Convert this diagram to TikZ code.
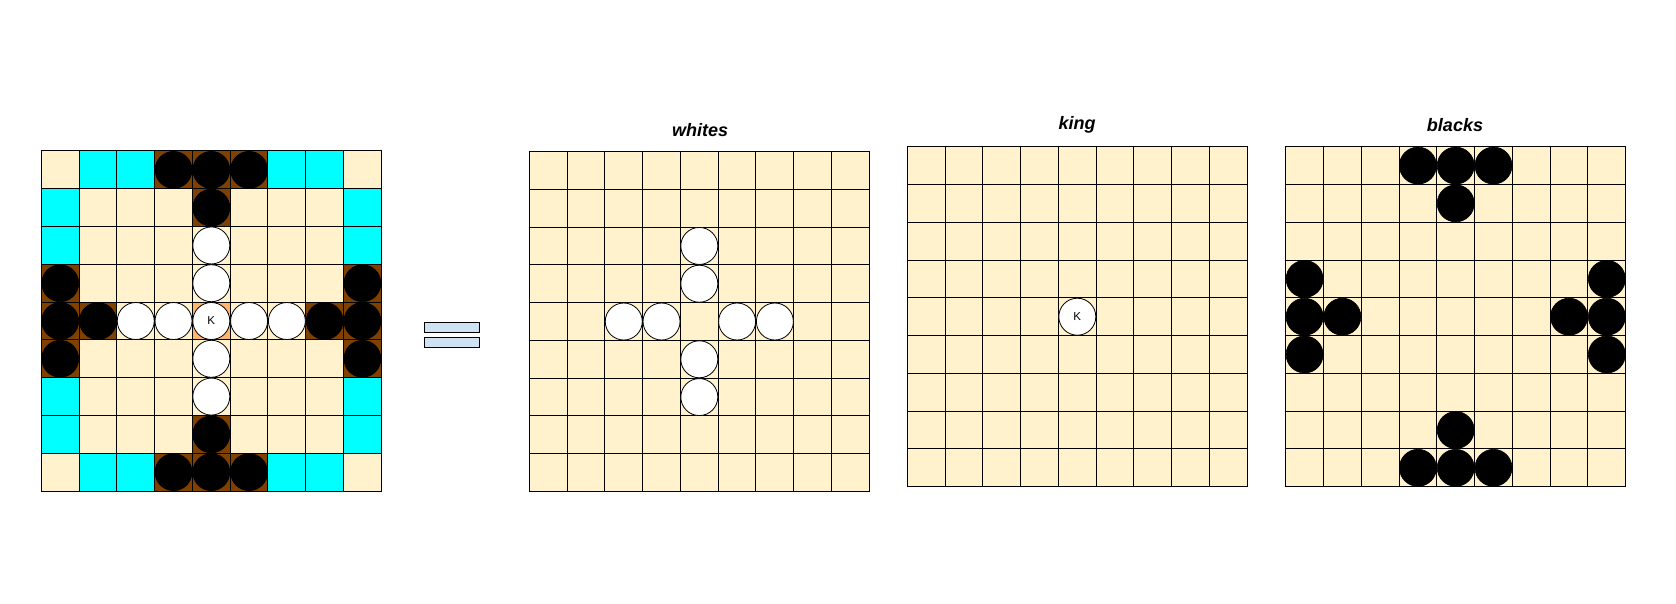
\documentclass[tikz,border=0pt]{standalone}
\usepackage{fontspec}
\newfontfamily\arial{Liberation Sans}
\definecolor{cream}{HTML}{FFF2CC}
\definecolor{aqua}{HTML}{00FFFF}
\definecolor{wood}{HTML}{7F4000}
\definecolor{throne}{HTML}{FFB570}
\definecolor{eqblue}{HTML}{CFE2F3}
\tikzset{
  cellbox/.style={draw=black, line width=1pt, minimum size=37.78pt, inner sep=0pt, outer sep=0pt, fill=cream},
  blackpiece/.style={circle, draw=black, fill=black, line width=0.6pt, minimum size=37pt, inner sep=0pt},
  whitepiece/.style={circle, draw=black, fill=white, line width=0.8pt, minimum size=37pt, inner sep=0pt, font=\arial\fontsize{11.5}{13}\selectfont},
  boardtitle/.style={font=\arial\bfseries\itshape\fontsize{18}{22}\selectfont, inner sep=0pt},
  eqbar/.style={draw=black, fill=eqblue, line width=1pt, minimum width=55pt, minimum height=9.6pt, inner sep=0pt}
}
\begin{document}
\begin{tikzpicture}[x=1pt,y=-1pt]
\useasboundingbox (0,0) rectangle (1676,604);
% boards
\foreach \b/\ox/\oy in {1/41.3/151, 2/529.3/151.5, 3/907.3/146.7, 4/1285.7/146.7}{
  \foreach \r in {0,...,8}{
    \foreach \c in {0,...,8}{
      \node[cellbox] (b\b-\r-\c) at ({\ox+(\c+0.5)*37.78},{\oy+(\r+0.5)*37.78}) {};
    }
  }
}
% board 1 special squares
\foreach \r/\c in {0/1,0/2,0/6,0/7,1/0,1/8,2/0,2/8,6/0,6/8,7/0,7/8,8/1,8/2,8/6,8/7}{
  \node[cellbox, fill=aqua] at (b1-\r-\c) {};
}
\foreach \r/\c in {0/3,0/4,0/5,1/4,3/0,4/0,4/1,5/0,3/8,4/8,4/7,5/8,7/4,8/3,8/4,8/5}{
  \node[cellbox, fill=wood] at (b1-\r-\c) {};
}
\node[cellbox, fill=throne] at (b1-4-4) {};
% black pieces
\foreach \b in {1,4}{
  \foreach \r/\c in {0/3,0/4,0/5,1/4,3/0,4/0,4/1,5/0,3/8,4/8,4/7,5/8,7/4,8/3,8/4,8/5}{
    \node[blackpiece] (p\b-\r-\c) at (b\b-\r-\c) {};
  }
}
% white pieces
\foreach \b in {1,2}{
  \foreach \r/\c in {2/4,3/4,4/2,4/3,4/5,4/6,5/4,6/4}{
    \node[whitepiece] (w\b-\r-\c) at (b\b-\r-\c) {};
  }
}
% kings
\node[whitepiece] (k1) at (b1-4-4) {K};
\node[whitepiece] (k3) at (b3-4-4) {K};
% titles
\node[boardtitle] (t2) at (700,130) {whites};
\node[boardtitle] (t3) at (1077,125) {king};
\node[boardtitle] (t4) at (1455,125) {blacks};
% equals sign
\node[eqbar] (eq1) at (451.8,327.5) {};
\node[eqbar] (eq2) at (451.8,342.5) {};
\end{tikzpicture}
\end{document}
